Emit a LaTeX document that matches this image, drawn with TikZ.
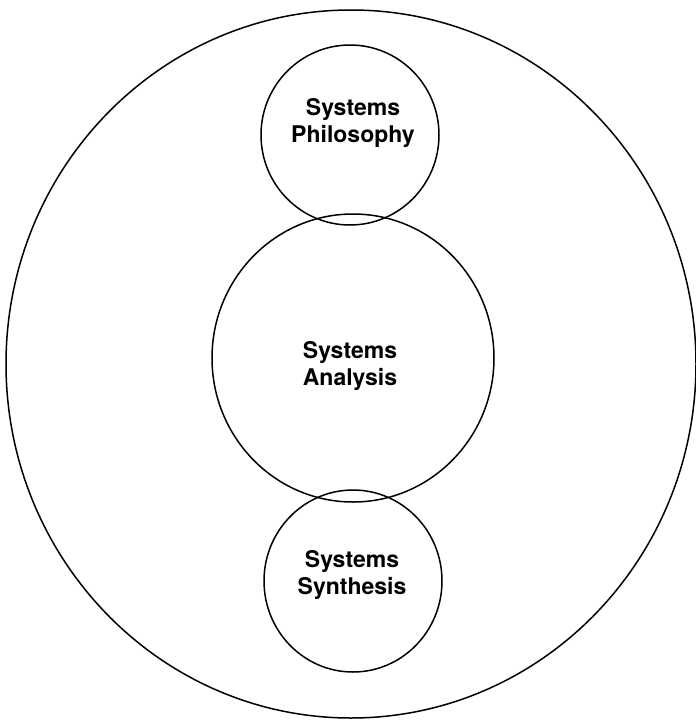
\documentclass[tikz,border=0pt]{standalone}
\usepackage{fontspec}
\setmainfont{TeX Gyre Heros}
\usetikzlibrary{shapes.geometric}
\begin{document}
\begin{tikzpicture}[x=1pt,y=-1pt,
  ring/.style={draw=black, line width=1.5pt, ellipse, inner sep=0pt, fill=none},
  label/.style={align=center, inner sep=0pt,
    font=\bfseries\fontsize{23}{27}\selectfont}]
  % page frame
  \path[use as bounding box] (0,0) rectangle (696,721);
  \fill[white] (0,0) rectangle (696,721);

  % outer field
  \node[ring, minimum width=690pt, minimum height=708pt] (whole) at (351,364) {};

  % the three stacked circles
  \node[ring, minimum width=178pt, minimum height=180pt] (philo) at (350,135) {};
  \node[ring, minimum width=282pt, minimum height=288pt] (anal) at (353,358) {};
  \node[ring, minimum width=178pt, minimum height=182pt] (synth) at (353,581) {};

  % labels
  \node[label] (tphilo) at (353,123) {Systems\\Philosophy};
  \node[label] (tanal) at (350,366) {Systems\\Analysis};
  \node[label] (tsynth) at (352,575) {Systems\\Synthesis};
\end{tikzpicture}
\end{document}
